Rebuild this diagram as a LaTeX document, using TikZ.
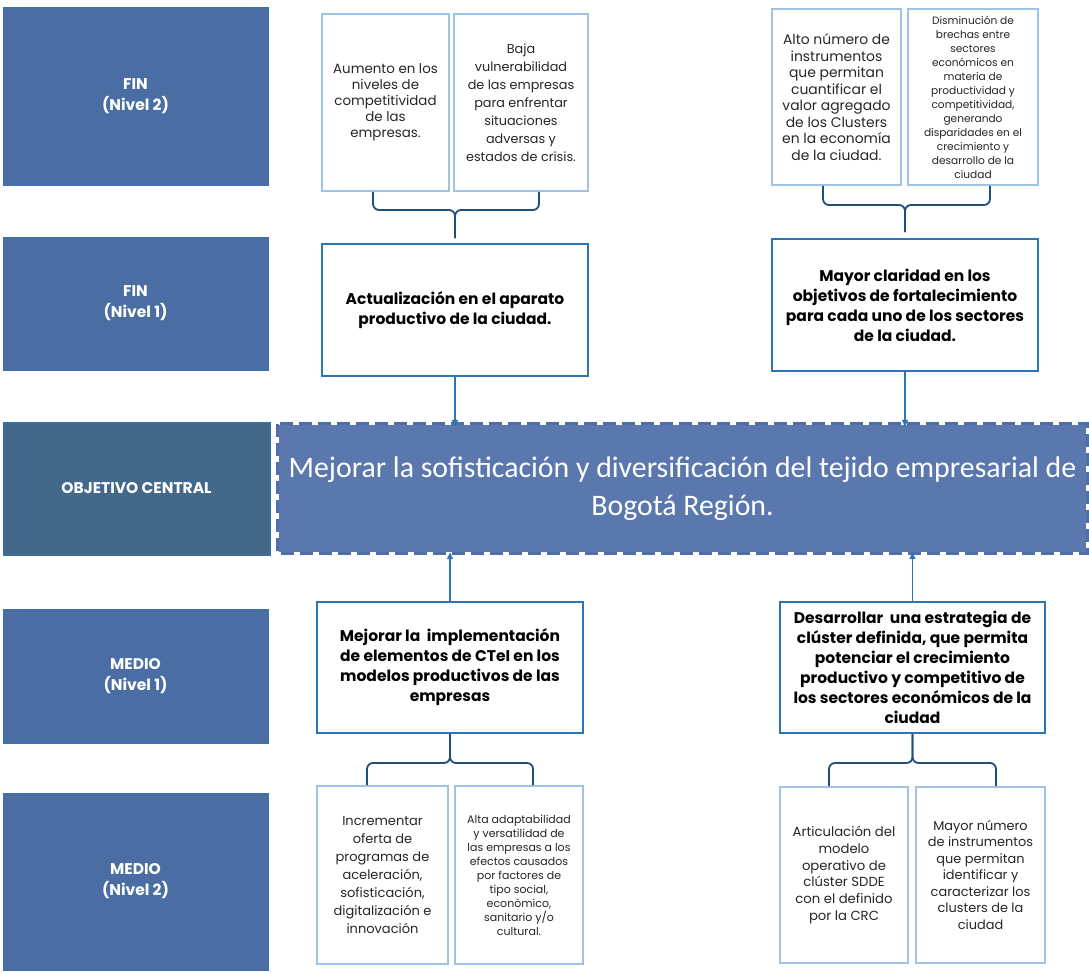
\documentclass[tikz,border=0pt]{standalone}
\usepackage{fontspec}
\setmainfont{Poppins}
\newfontfamily\calfont{Carlito}
\usetikzlibrary{arrows.meta,calc}
\definecolor{sidebl}{HTML}{4A6DA3}
\definecolor{sideedge}{HTML}{3C70AE}
\definecolor{objbl}{HTML}{436889}
\definecolor{centbl}{HTML}{5A78AE}
\definecolor{centedge}{HTML}{506EA6}
\definecolor{lightedge}{HTML}{9DC3E6}
\definecolor{midedge}{HTML}{2E75B6}
\definecolor{bracecol}{HTML}{1F4E79}
\definecolor{txt}{HTML}{262626}
\begin{document}
\begin{tikzpicture}[x=1pt,y=-1pt,
  side/.style={draw=sideedge, line width=0.8pt, fill=sidebl, text=white, font=\bfseries\fontsize{15.5}{21}\selectfont, align=center, inner sep=0pt},
  lbox/.style={draw=lightedge, line width=1.8pt, fill=white, text=txt, align=center, inner sep=0pt},
  mbox/.style={draw=midedge, line width=1.8pt, fill=white, text=black, align=center, inner sep=0pt, font=\bfseries\fontsize{15.5}{20}\selectfont},
  brace/.style={draw=bracecol, line width=1.8pt, rounded corners=6pt},
  arr/.style={draw=midedge, line width=1.4pt, -{Triangle[length=7pt,width=6pt]}}
]
\useasboundingbox (0,0) rectangle (1089,973);

% left column
\node[side, minimum width=265pt, minimum height=178pt] (s1) at (135.5,96) {FIN\\(Nivel 2)};
\node[side, minimum width=265pt, minimum height=133pt] (s2) at (135.5,303.5) {FIN\\(Nivel 1)};
\node[side, fill=objbl, draw=midedge, minimum width=267pt, minimum height=133pt] (s3) at (136.5,488.5) {OBJETIVO CENTRAL};
\node[side, minimum width=265pt, minimum height=134pt] (s4) at (135.5,676) {MEDIO\\(Nivel 1)};
\node[side, minimum width=265pt, minimum height=177pt] (s5) at (135.5,881.5) {MEDIO\\(Nivel 2)};

% top left
\node[lbox, minimum width=127pt, minimum height=177pt, font=\fontsize{13.4}{16}\selectfont] (a1) at (385.5,102.5)
  {Aumento en los\\niveles de\\competitividad\\de las\\empresas.};
\node[lbox, minimum width=134pt, minimum height=177pt, font=\fontsize{12.8}{18}\selectfont] (a2) at (521,102.5)
  {Baja\\vulnerabilidad\\de las empresas\\para enfrentar\\situaciones\\adversas y\\estados de crisis.};
\node[mbox, minimum width=266pt, minimum height=132pt] (b1) at (455,310)
  {Actualización en el aparato\\productivo de la ciudad.};

% top right
\node[lbox, minimum width=129pt, minimum height=176pt, font=\fontsize{13.9}{16.5}\selectfont] (c1) at (836.5,97)
  {Alto número de\\instrumentos\\que permitan\\cuantificar el\\valor agregado\\de los Clusters\\en la economía\\de la ciudad.};
\node[lbox, minimum width=130pt, minimum height=176pt, font=\fontsize{10.6}{14}\selectfont] (c2) at (973,97)
  {Disminución de\\brechas entre\\sectores\\económicos en\\materia de\\productividad y\\competitividad,\\generando\\disparidades en el\\crecimiento y\\desarrollo de la\\ciudad};
\node[mbox, minimum width=266pt, minimum height=132pt] (d1) at (905,305)
  {Mayor claridad en los\\objetivos de fortalecimiento\\para cada uno de los sectores\\de la ciudad.};

% central
\fill[centbl] (278,424) rectangle (1087,553);
\node[text=white, align=center, inner sep=0pt, minimum width=809pt, minimum height=129pt, font=\calfont\fontsize{29.8}{38}\selectfont] (cen) at (682.5,488.5)
  {Mejorar la sofisticación y diversificación del tejido empresarial de\\Bogotá Región.};
\draw[white, line width=3pt] (cen.north west) rectangle (cen.south east);
\draw[centedge, line width=3pt, dash pattern=on 13pt off 6pt] (cen.north west) rectangle (cen.south east);

% medio level 1
\node[mbox, minimum width=266pt, minimum height=131pt] (e1) at (450,667.5)
  {Mejorar la\ \ implementación\\de elementos de CTeI en los\\modelos productivos de las\\empresas};
\node[mbox, minimum width=265pt, minimum height=131pt] (f1) at (912.5,667.5)
  {Desarrollar\ \ una estrategia de\\clúster definida, que permita\\potenciar el crecimiento\\productivo y competitivo de\\los sectores económicos de la\\ciudad};

% bottom
\node[lbox, minimum width=131pt, minimum height=178pt, font=\fontsize{13}{18}\selectfont] (g1) at (382.5,875)
  {Incrementar\\oferta de\\programas de\\aceleración,\\sofisticación,\\digitalización e\\innovación};
\node[lbox, minimum width=128pt, minimum height=178pt, font=\fontsize{11}{14}\selectfont] (g2) at (519,875)
  {Alta adaptabilidad\\y versatilidad de\\las empresas a los\\efectos causados\\por factores de\\tipo social,\\económico,\\sanitario y/o\\cultural.};
\node[lbox, minimum width=128pt, minimum height=176pt, font=\fontsize{13.2}{16.7}\selectfont] (h1) at (844,875)
  {Articulación del\\modelo\\operativo de\\clúster SDDE\\con el definido\\por la CRC};
\node[lbox, minimum width=129pt, minimum height=176pt, font=\fontsize{12.9}{16.5}\selectfont] (h2) at (980.5,875)
  {Mayor número\\de instrumentos\\que permitan\\identificar y\\caracterizar los\\clusters de la\\ciudad};

% braces
\coordinate (bt1) at (455,210);
\draw[brace] ([xshift=-12.5pt]a1.south) |- (bt1) -- ([yshift=5pt]b1.north);
\draw[brace] ([xshift=18pt]a2.south) |- (bt1) -- ([yshift=5pt]b1.north);
\coordinate (bt2) at (905,205);
\draw[brace] ([xshift=-13.5pt]c1.south) |- (bt2) -- ([yshift=6pt]d1.north);
\draw[brace] ([xshift=17pt]c2.south) |- (bt2) -- ([yshift=6pt]d1.north);
\coordinate (bb1) at (450,763);
\draw[brace] ([xshift=-15.5pt]g1.north) |- (bb1) -- (e1.south);
\draw[brace] ([xshift=14pt]g2.north) |- (bb1) -- (e1.south);
\coordinate (bb2) at (912.5,763);
\draw[brace] ([xshift=-15pt]h1.north) |- (bb2) -- (f1.south);
\draw[brace] ([xshift=15.5pt]h2.north) |- (bb2) -- (f1.south);

% arrows
\draw[arr] (b1.south) -- ([yshift=-3pt]b1.south |- cen.north);
\draw[arr] (d1.south) -- ([yshift=-3pt]d1.south |- cen.north);
\draw[arr] (e1.north) -- ([yshift=1pt]e1.north |- cen.south);
\draw[arr] (f1.north) -- ([yshift=1pt]f1.north |- cen.south);
\end{tikzpicture}
\end{document}
